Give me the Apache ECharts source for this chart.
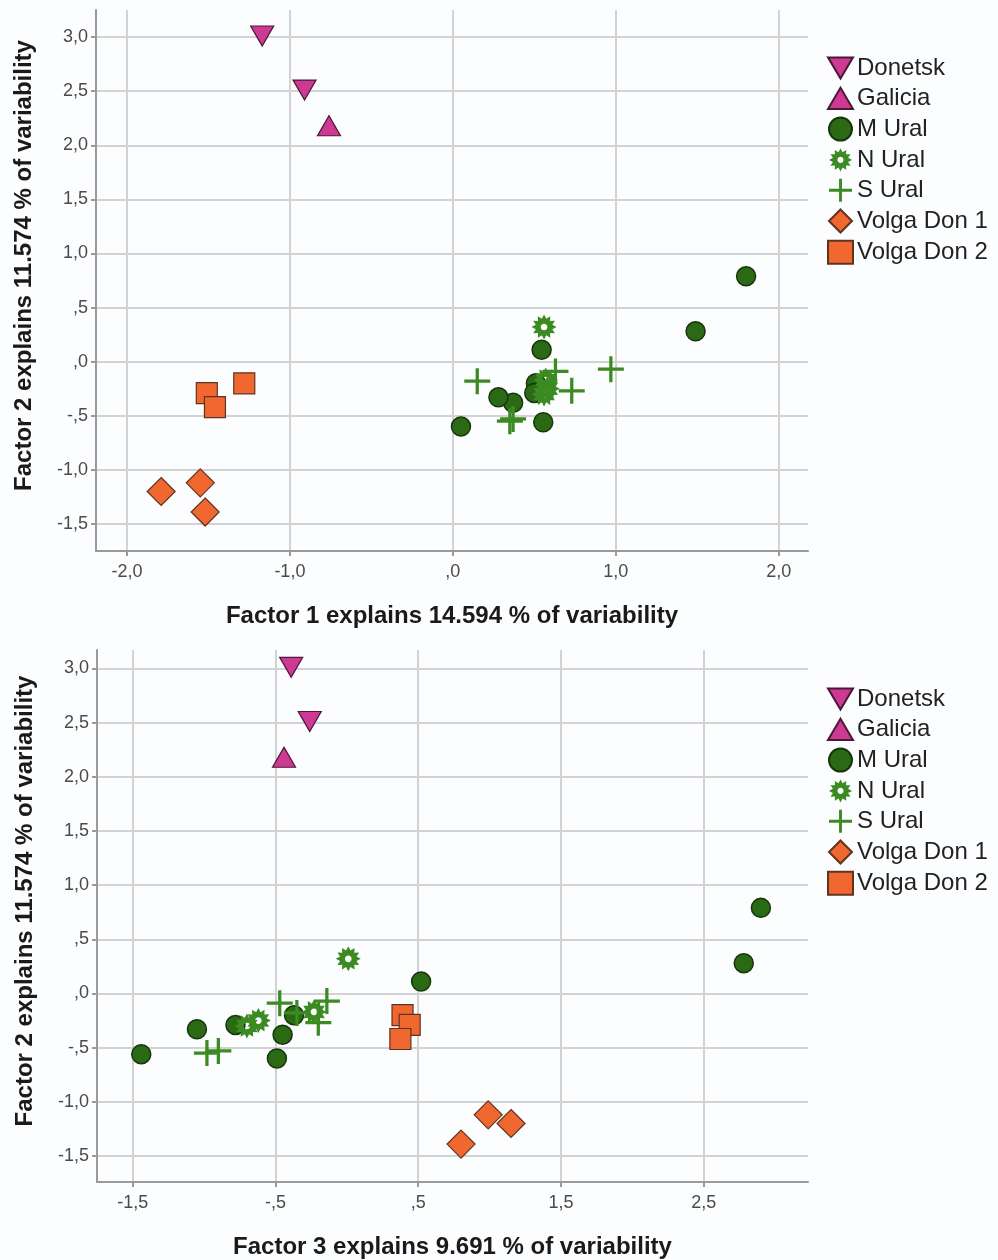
<!DOCTYPE html>
<html>
<head>
<meta charset="utf-8">
<script src="https://cdn.jsdelivr.net/npm/echarts@6/dist/echarts.min.js"></script>
<style>html,body{margin:0;padding:0;background:#fcfdfe;}#c{width:998px;height:1260px;}</style>
</head>
<body>
<div id="c"></div>
<script>
// ---- data: factor scores (Factor 1, Factor 2, Factor 3) per group ----
const groupNames = ['Donetsk', 'Galicia', 'M Ural', 'N Ural', 'S Ural', 'Volga Don 1', 'Volga Don 2'];

const donetskF1 = [-1.17, -0.91];
const donetskF2 = [3.01, 2.51];
const donetskF3 = [-0.39, -0.26];

const galiciaF1 = [-0.76];
const galiciaF2 = [2.18];
const galiciaF3 = [-0.44];

const mUralF1 = [1.80, 1.49, 0.545, 0.05, 0.555, 0.37, 0.28, 0.51, 0.50];
const mUralF2 = [0.79, 0.28, 0.11, -0.60, -0.56, -0.38, -0.33, -0.20, -0.29];
const mUralF3 = [2.90, 2.78, 0.52, -0.49, -1.44, -0.45, -1.05, -0.37, -0.78];

const nUralF1 = [0.56, 0.57, 0.58, 0.56];
const nUralF2 = [0.32, -0.17, -0.25, -0.30];
const nUralF3 = [0.01, -0.23, -0.62, -0.70];

const sUralF1 = [0.15, 0.97, 0.63, 0.73, 0.35, 0.37];
const sUralF2 = [-0.18, -0.07, -0.09, -0.27, -0.55, -0.53];
const sUralF3 = [-0.35, -0.14, -0.47, -0.20, -0.98, -0.90];

const volgaDon1F1 = [-1.79, -1.55, -1.52];
const volgaDon1F2 = [-1.20, -1.12, -1.39];
const volgaDon1F3 = [1.15, 0.99, 0.80];

const volgaDon2F1 = [-1.28, -1.51, -1.46];
const volgaDon2F2 = [-0.20, -0.29, -0.42];
const volgaDon2F3 = [0.39, 0.44, 0.375];

// ---- tick values and labels ----
const yTicks = [3.0, 2.5, 2.0, 1.5, 1.0, 0.5, 0.0, -0.5, -1.0, -1.5];
const yTickLabels = ['3,0', '2,5', '2,0', '1,5', '1,0', ',5', ',0', '-,5', '-1,0', '-1,5'];
const x1Ticks = [-2, -1, 0, 1, 2];
const x1TickLabels = ['-2,0', '-1,0', ',0', '1,0', '2,0'];
const x3Ticks = [-1.5, -0.5, 0.5, 1.5, 2.5];
const x3TickLabels = ['-1,5', '-,5', ',5', '1,5', '2,5'];

const xTitle1 = 'Factor 1 explains 14.594 % of variability';
const xTitle3 = 'Factor 3 explains 9.691 % of variability';
const yTitle2 = 'Factor 2 explains 11.574 % of variability';

// ---- build ----
const groups = [
  [donetskF1, donetskF2, donetskF3],
  [galiciaF1, galiciaF2, galiciaF3],
  [mUralF1, mUralF2, mUralF3],
  [nUralF1, nUralF2, nUralF3],
  [sUralF1, sUralF2, sUralF3],
  [volgaDon1F1, volgaDon1F2, volgaDon1F3],
  [volgaDon2F1, volgaDon2F2, volgaDon2F3]
];

function gearPath() {
  const n = 12, R = 12, r = 8.2, h = 3.2, cx = 12, cy = 12;
  let d = '';
  for (let i = 0; i < 2 * n; i++) {
    const a = Math.PI * i / n - Math.PI / 2;
    const rad = i % 2 === 0 ? R : r;
    d += (i === 0 ? 'M' : 'L') + (cx + rad * Math.cos(a)).toFixed(2) + ',' + (cy + rad * Math.sin(a)).toFixed(2);
  }
  d += 'Z';
  for (let i = 0; i < 16; i++) {
    const a = -2 * Math.PI * i / 16;
    d += (i === 0 ? 'M' : 'L') + (cx + h * Math.cos(a)).toFixed(2) + ',' + (cy + h * Math.sin(a)).toFixed(2);
  }
  d += 'Z';
  return 'path://' + d;
}

const styles = [
  { symbol: 'path://M0,0L20,0L10,17Z', size: [23, 20], color: '#cc3a93', border: '#4d1738', bw: 1.2 },
  { symbol: 'path://M10,0L20,17L0,17Z', size: [23, 20], color: '#cc3a93', border: '#4d1738', bw: 1.2 },
  { symbol: 'circle', size: 19, color: '#2b6a14', border: '#17340b', bw: 1.5 },
  { symbol: gearPath(), size: 25, color: '#3b8a22', border: '#3b8a22', bw: 0 },
  { symbol: 'path://M10.5,0H13.5V10.5H24V13.5H13.5V24H10.5V13.5H0V10.5H10.5Z', size: 26, color: '#3b8a22', border: '#3b8a22', bw: 0 },
  { symbol: 'path://M10,0L20,10L10,20L0,10Z', size: 28, color: '#f06830', border: '#5e3420', bw: 1.2 },
  { symbol: 'rect', size: 21, color: '#f06830', border: '#5e3420', bw: 1.2 }
];

function pairs(xs, ys) { return xs.map((v, i) => [v, ys[i]]); }

const series = [];
[0, 1].forEach(gi => {
  groups.forEach((g, k) => {
    const st = styles[k];
    series.push({
      type: 'scatter',
      name: groupNames[k],
      xAxisIndex: gi, yAxisIndex: gi,
      data: gi === 0 ? pairs(g[0], g[1]) : pairs(g[2], g[1]),
      symbol: st.symbol,
      symbolSize: st.size,
      itemStyle: { color: st.color, borderColor: st.border, borderWidth: st.bw, opacity: 1 },
      emphasis: { disabled: true },
      z: 2 + k
    });
  });
});

function lbl(ticks, labels) {
  return v => { const i = ticks.findIndex(t => Math.abs(t - v) < 1e-6); return i >= 0 ? labels[i] : ''; };
}

const FONT = "'Liberation Sans', Arial, sans-serif";
const axisLineStyle = { show: true, onZero: false, lineStyle: { color: '#9a9a9a', width: 2 } };
const splitStyle = { show: true, lineStyle: { color: '#d2d2d2', width: 2 } };
const tickLabelStyle = { color: '#4a4a4a', fontSize: 18, fontFamily: FONT };
const nameStyle = { color: '#1a1a1a', fontSize: 24, fontWeight: 'bold', fontFamily: FONT };

function xAxis(gi, min, max, ticks, labels, title) {
  return {
    type: 'value', gridIndex: gi, min: min, max: max,
    axisLine: axisLineStyle,
    axisTick: { show: true, length: 5, inside: false, lineStyle: { color: '#9a9a9a', width: 2 }, customValues: ticks },
    axisLabel: Object.assign({ customValues: ticks, margin: 12, formatter: lbl(ticks, labels) }, tickLabelStyle),
    splitLine: splitStyle,
    name: title, nameLocation: 'middle', nameGap: 53, nameTextStyle: nameStyle
  };
}
function yAxis(gi, min, max) {
  return {
    type: 'value', gridIndex: gi, min: min, max: max,
    axisLine: axisLineStyle,
    axisTick: { show: true, length: 5, lineStyle: { color: '#9a9a9a', width: 2 }, customValues: yTicks },
    axisLabel: Object.assign({ customValues: yTicks, margin: 8, formatter: lbl(yTicks, yTickLabels) }, tickLabelStyle),
    splitLine: splitStyle,
    name: yTitle2, nameLocation: 'middle', nameGap: 60,
    nameTextStyle: Object.assign({ padding: [0, 0, 0, 30] }, nameStyle)
  };
}

function legend(top) {
  return {
    orient: 'vertical', left: 827, top: top, padding: 0,
    itemWidth: 25, itemHeight: 23, itemGap: 6.3,
    textStyle: { color: '#222', fontSize: 24, lineHeight: 23, fontFamily: FONT, padding: [0, 0, 0, -1] },
    data: groupNames,
    selectedMode: false
  };
}

const chart = echarts.init(document.getElementById('c'), null, { renderer: 'canvas' });
chart.setOption({
  backgroundColor: '#fcfdfe',
  animation: false,
  grid: [
    { left: 96, top: 10, width: 712, height: 541, containLabel: false },
    { left: 97, top: 650, width: 711, height: 533, containLabel: false }
  ],
  xAxis: [
    xAxis(0, -2.19, 2.18, x1Ticks, x1TickLabels, xTitle1),
    xAxis(1, -1.75, 3.23, x3Ticks, x3TickLabels, xTitle3)
  ],
  yAxis: [yAxis(0, -1.75, 3.25), yAxis(1, -1.74, 3.17)],
  legend: [legend(56), legend(687)],
  series: series
});
</script>
</body>
</html>
